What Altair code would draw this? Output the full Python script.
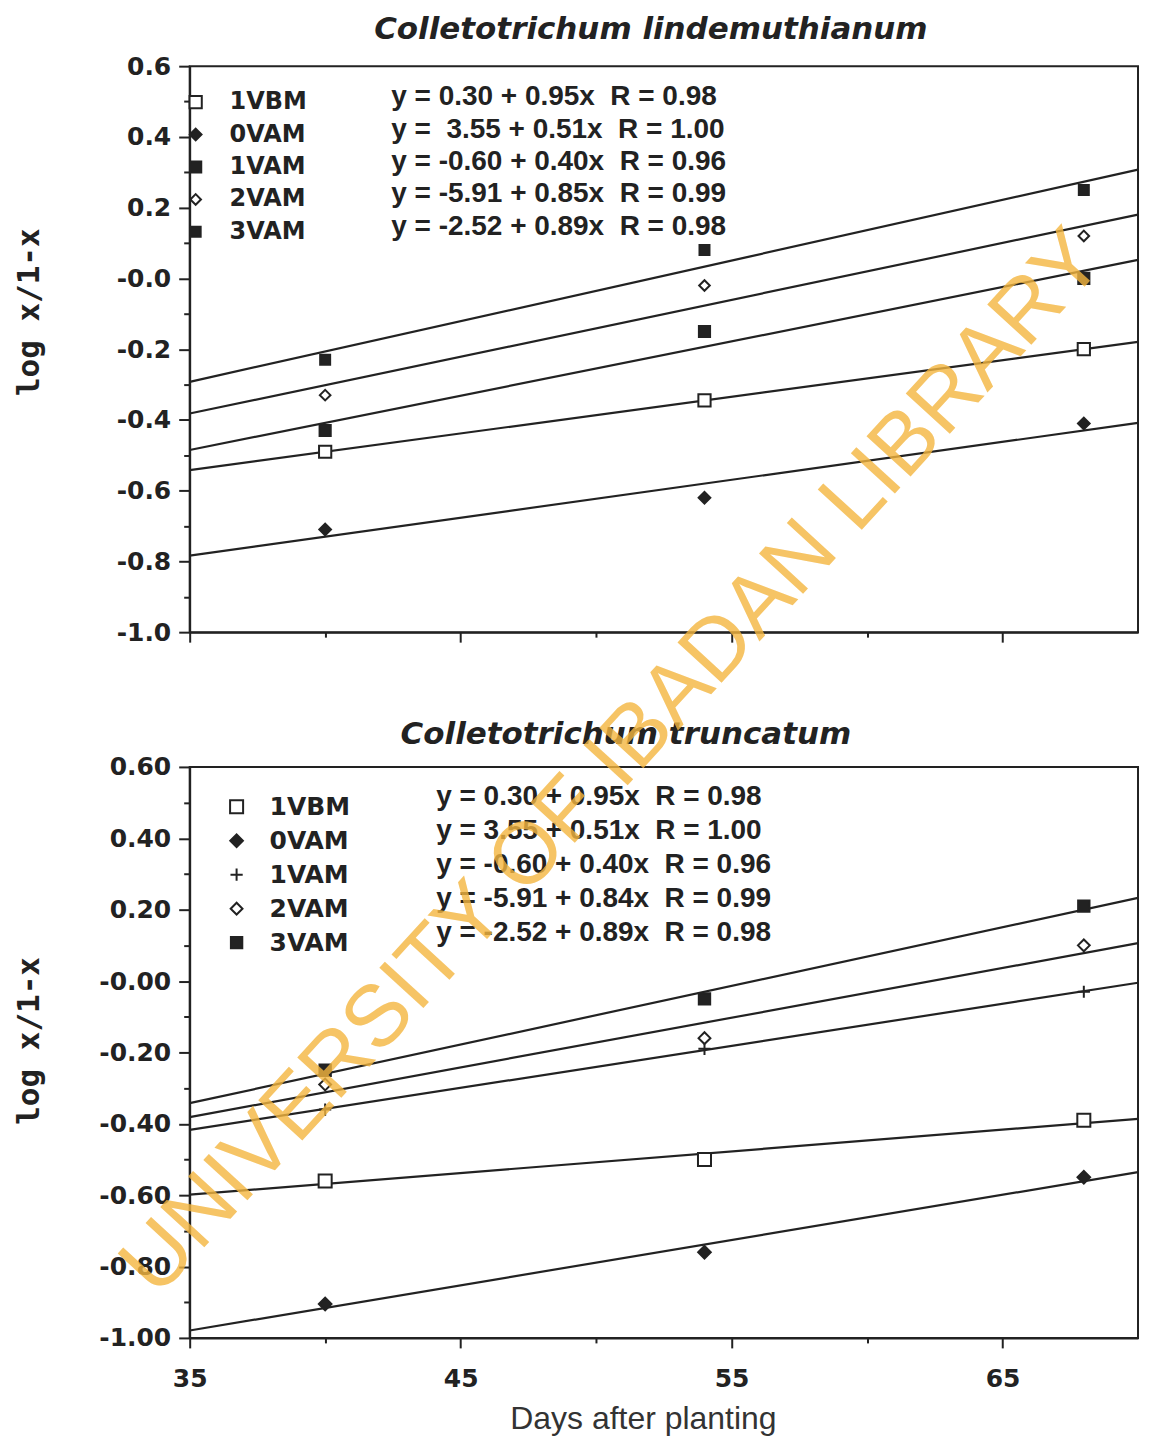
import altair as alt
import pandas as pd

# ---------------- data ----------------
days = [40, 54, 68]
series_order = ["1VBM", "0VAM", "1VAM", "2VAM", "3VAM"]

# Colletotrichum lindemuthianum (top panel), log x/1-x
top_1vbm = [-0.49, -0.345, -0.20]
top_0vam = [-0.71, -0.62, -0.41]
top_1vam = [-0.43, -0.15, 0.00]
top_2vam = [-0.33, -0.02, 0.12]
top_3vam = [-0.23, 0.08, 0.25]

# Colletotrichum truncatum (bottom panel), log x/1-x
bot_1vbm = [-0.56, -0.50, -0.39]
bot_0vam = [-0.905, -0.76, -0.55]
bot_1vam = [-0.36, -0.19, -0.03]
bot_2vam = [-0.29, -0.16, 0.10]
bot_3vam = [-0.25, -0.05, 0.21]

NB = "\u00a0"
top_equations = [
    "y = 0.30 + 0.95x " + NB + "R = 0.98",
    "y = " + NB + "3.55 + 0.51x " + NB + "R = 1.00",
    "y = -0.60 + 0.40x " + NB + "R = 0.96",
    "y = -5.91 + 0.85x " + NB + "R = 0.99",
    "y = -2.52 + 0.89x " + NB + "R = 0.98",
]
bottom_equations = [
    "y = 0.30 + 0.95x " + NB + "R = 0.98",
    "y = 3.55 + 0.51x " + NB + "R = 1.00",
    "y = -0.60 + 0.40x " + NB + "R = 0.96",
    "y = -5.91 + 0.84x " + NB + "R = 0.99",
    "y = -2.52 + 0.89x " + NB + "R = 0.98",
]

top_title = "Colletotrichum lindemuthianum"
bottom_title = "Colletotrichum truncatum"
x_title = "Days after planting"
y_title = "log x/1-x"
watermark = "UNIVERSITY OF IBADAN LIBRARY"

x_tick_values = [35, 40, 45, 50, 55, 60, 65]
y_tick_values = [-1.0, -0.9, -0.8, -0.7, -0.6, -0.5, -0.4, -0.3, -0.2, -0.1,
                 0.0, 0.1, 0.2, 0.3, 0.4, 0.5, 0.6]

# ---------------- styles ----------------
INK = "#222222"
W = 950
top_shapes = ["square", "diamond", "square", "diamond", "square"]
bottom_shapes = ["square", "diamond", "M-1,0H1M0,-1V1", "diamond", "square"]
marker_fills = ["white", INK, INK, "white", INK]
top_sizes = [150, 100, 170, 80, 190]
bottom_sizes = [170, 130, 280, 120, 190]


def table(vals):
    rows = []
    for name, v in zip(series_order, vals):
        for d, y in zip(days, v):
            rows.append({"day": d, "val": y, "series": name})
    return pd.DataFrame(rows)


top_df = table([top_1vbm, top_0vam, top_1vam, top_2vam, top_3vam])
bot_df = table([bot_1vbm, bot_0vam, bot_1vam, bot_2vam, bot_3vam])


def make_panel(df, eqs, shapes, sizes, title_text, title_x, title_y, height,
               digits, legend_range, sym_x, lab_x, lab_size, eq_x, eq_dy,
               show_x_labels, y_title_y, extras):
    shape_scale = alt.Scale(domain=series_order, range=shapes)
    fill_scale = alt.Scale(domain=series_order, range=marker_fills)
    size_scale = alt.Scale(domain=series_order, range=sizes)

    xkw = dict(
        values=x_tick_values,
        grid=False,
        domainColor=INK, domainWidth=2,
        tickColor=INK, tickWidth=2,
        tickSize={"condition": {"test": "datum.value % 10 == 5", "value": 10}, "value": 5},
    )
    if show_x_labels:
        xkw.update(
            labelExpr="datum.value % 10 == 5 ? datum.label : ''",
            labelFont="DejaVu Sans", labelFontWeight="bold", labelFontSize=25,
            labelColor=INK, labelPadding=19, labelFlush=False,
            title=x_title, titleFont="Liberation Sans", titleFontWeight="normal",
            titleFontSize=32, titleColor="#333333", titlePadding=12,
            titleX=454, titleAlign="center",
        )
    else:
        xkw.update(labels=False, title=None)
    xaxis = alt.Axis(**xkw)

    zero_label = "-0." + "0" * digits
    label_expr = (
        "abs(round(datum.value*10)) % 2 == 0 ? (abs(datum.value) < 1e-9 ? '"
        + zero_label
        + "' : replace(format(datum.value, '."
        + str(digits)
        + "f'), '\u2212', '-')) : ''"
    )
    yaxis = alt.Axis(
        values=y_tick_values, grid=False,
        domainColor=INK, domainWidth=2, tickColor=INK, tickWidth=2,
        tickSize={"condition": {"test": "abs(round(datum.value*10)) % 2 == 0", "value": 11},
                  "value": 6},
        labelExpr=label_expr, labelFont="DejaVu Sans", labelFontWeight="bold",
        labelFontSize=25, labelColor=INK, labelPadding=8,
        title=y_title, titleFont="DejaVu Sans Mono", titleFontWeight="bold",
        titleFontSize=31, titleColor=INK, titleAngle=270, titleBaseline="bottom",
        titleX=-144, titleY=y_title_y, titleAlign="center",
    )

    x = alt.X("day:Q", scale=alt.Scale(domain=[35, 70], nice=False, zero=False), axis=xaxis)
    y = alt.Y("val:Q", scale=alt.Scale(domain=[-1.0, 0.6], nice=False, zero=False), axis=yaxis)

    base = alt.Chart(df)
    lines = base.transform_regression(
        "day", "val", groupby=["series"], extent=[35, 70]
    ).mark_line(color=INK, strokeWidth=2.2).encode(x=x, y=y, detail="series:N")
    points = base.mark_point(stroke=INK, strokeWidth=2, opacity=1, fillOpacity=1).encode(
        x=x, y=y,
        shape=alt.Shape("series:N", scale=shape_scale, legend=None),
        fill=alt.Fill("series:N", scale=fill_scale, legend=None),
        size=alt.Size("series:N", scale=size_scale, legend=None),
    )

    leg_df = pd.DataFrame({"series": series_order, "eq": eqs})
    ly = alt.Y("series:N", sort=series_order,
               scale=alt.Scale(type="point", domain=series_order, range=legend_range, padding=0),
               axis=None)
    leg_base = alt.Chart(leg_df)
    leg_sym = leg_base.mark_point(stroke=INK, strokeWidth=2, opacity=1, fillOpacity=1).encode(
        x=alt.value(sym_x), y=ly,
        shape=alt.Shape("series:N", scale=shape_scale, legend=None),
        fill=alt.Fill("series:N", scale=fill_scale, legend=None),
        size=alt.Size("series:N", scale=size_scale, legend=None),
    )
    leg_lab = leg_base.mark_text(
        align="left", baseline="middle", font="DejaVu Sans", fontWeight="bold",
        fontSize=lab_size, color=INK,
    ).encode(x=alt.value(lab_x), y=ly, text="series:N")
    leg_eq = leg_base.mark_text(
        align="left", baseline="middle", font="Liberation Sans", fontWeight="bold",
        fontSize=28, color=INK, dy=eq_dy,
    ).encode(x=alt.value(eq_x), y=ly, text="eq:N")

    title_mark = alt.Chart(pd.DataFrame({"t": [title_text]})).mark_text(
        font="DejaVu Sans", fontSize=31, fontStyle="italic", fontWeight="bold",
        color=INK, align="center", baseline="alphabetic",
    ).encode(x=alt.value(title_x), y=alt.value(title_y), text="t:N")

    layers = [alt.layer(lines, points), alt.layer(leg_sym, leg_lab, leg_eq), title_mark] + extras
    return alt.layer(*layers).resolve_scale(y="independent").properties(
        width=W, height=height,
    )


wm = alt.Chart(pd.DataFrame({"t": [watermark]})).mark_text(
    font="Liberation Sans", fontSize=87, color="#F4B63F", opacity=0.8,
    angle=312.5, align="center", baseline="middle",
).encode(x=alt.value(424), y=alt.value(-4), text="t:N")

top = make_panel(top_df, top_equations, top_shapes, top_sizes, top_title, 462, -27, 567,
                 1, [36, 166], 6, 40, 24, 202, -5, False, 246, [])
bottom = make_panel(bot_df, bottom_equations, bottom_shapes, bottom_sizes, bottom_title, 437, -23, 572,
                    2, [40, 176], 47, 80, 25, 247, -10, True, 274, [wm])

chart = alt.vconcat(top, bottom, spacing=135, bounds="flush").resolve_scale(
    shape="independent", fill="independent", size="independent"
).configure_view(stroke=INK, strokeWidth=2).properties(
    padding={"left": 5, "top": 4, "right": 0, "bottom": 0},
    background="white",
)

chart.save("out.html", embed_options={"renderer": "svg", "actions": False})
